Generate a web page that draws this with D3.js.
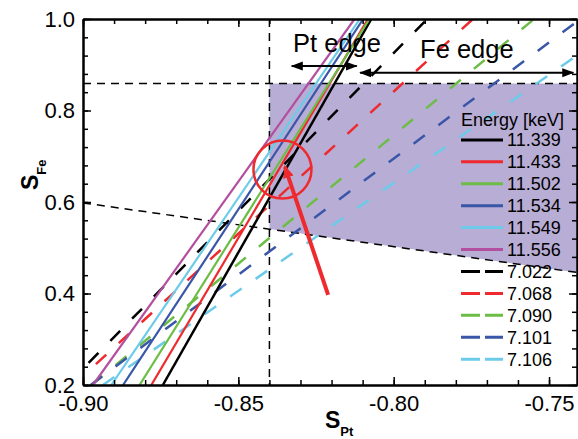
<!DOCTYPE html>
<html>
<head>
<meta charset="utf-8">
<script src="https://cdnjs.cloudflare.com/ajax/libs/d3/7.8.5/d3.min.js"></script>
<style>
body { margin: 0; background: #fff; }
svg { display: block; font-family: "Liberation Sans", Arial, sans-serif; }
</style>
</head>
<body>
<div id="chart"></div>
<script>
// Pt edge energies (solid) : S_Pt where the line is at S_Fe = 0.2 and at S_Fe = 1.0
var ptEnergies = ["11.339", "11.433", "11.502", "11.534", "11.549", "11.556"];
var ptLowX = [-0.8743, -0.8780, -0.8818, -0.8871, -0.8909, -0.8968];
var ptHighX = [-0.8072, -0.8083, -0.8078, -0.8098, -0.8109, -0.8126];

// Fe edge energies (dashed)
var feEnergies = ["7.022", "7.068", "7.090", "7.101", "7.106"];
var feLowX = [-0.9052, -0.9032, -0.8972, -0.8975, -0.8936];
var feHighX = [-0.7892, -0.7745, -0.7548, -0.7399, -0.7241];

// guide lines / shaded region
var vLineX = -0.84;
var hLineY = 0.859;
var slopeLine = [[-0.90, 0.598], [-0.741, 0.446]];
var shadeArea = [[-0.84, 0.859], [-0.741, 0.859], [-0.741, 0.446], [-0.84, 0.541]];

// annotations
var ptEdgeArrow = [-0.8328, -0.8119], ptEdgeArrowY = 0.897;
var feEdgeArrow = [-0.8108, -0.7422], feEdgeArrowY = 0.8826;
var circleCenter = [-0.8358, 0.671];
var redArrow = [[-0.8211, 0.397], [-0.8350, 0.677]];

var xTicks = [-0.90, -0.85, -0.80, -0.75];
var xTickLabels = ["-0.90", "-0.85", "-0.80", "-0.75"];
var yTicks = [0.2, 0.4, 0.6, 0.8, 1.0];
var yTickLabels = ["0.2", "0.4", "0.6", "0.8", "1.0"];

var colors = ["#000000", "#ee2a2e", "#6cbd45", "#3a56a6", "#6ccbe8", "#b24f9f"];
var shadeColor = "#b8add5";

var svg = d3.select("#chart").append("svg")
    .attr("width", 578)
    .attr("height", 439);

var x = d3.scaleLinear().domain([-0.90, -0.741]).range([83, 577]);
var y = d3.scaleLinear().domain([0.2, 1.0]).range([385, 19]);

svg.append("clipPath").attr("id", "plotclip")
    .append("rect")
    .attr("x", 83).attr("y", 19)
    .attr("width", 494).attr("height", 366);

var defs = svg.append("defs");
defs.append("marker")
    .attr("id", "blackhead")
    .attr("viewBox", "0 -5 12 10")
    .attr("refX", 11).attr("refY", 0)
    .attr("markerUnits", "userSpaceOnUse")
    .attr("markerWidth", 12).attr("markerHeight", 10)
    .attr("orient", "auto-start-reverse")
    .append("path").attr("d", "M0,-4.5L12,0L0,4.5Z").attr("fill", "#000");
defs.append("marker")
    .attr("id", "redhead")
    .attr("viewBox", "0 -6 13 12")
    .attr("refX", 11).attr("refY", 0)
    .attr("markerUnits", "userSpaceOnUse")
    .attr("markerWidth", 13).attr("markerHeight", 12)
    .attr("orient", "auto")
    .append("path").attr("d", "M0,-5.5L13,0L0,5.5Z").attr("fill", "#ee2a2e");

var plot = svg.append("g").attr("clip-path", "url(#plotclip)");

var line = d3.line().x(function (d) { return x(d[0]); }).y(function (d) { return y(d[1]); });

// shaded region
plot.append("path")
    .attr("d", line(shadeArea) + "Z")
    .attr("fill", shadeColor);

// guide lines
plot.append("line")
    .attr("x1", x(vLineX)).attr("x2", x(vLineX))
    .attr("y1", y(1.0)).attr("y2", y(0.2))
    .attr("stroke", "#000").attr("stroke-width", 1.5)
    .attr("stroke-dasharray", "8,6");
plot.append("line")
    .attr("x1", x(-0.90)).attr("x2", x(-0.741))
    .attr("y1", y(hLineY)).attr("y2", y(hLineY))
    .attr("stroke", "#000").attr("stroke-width", 1.5)
    .attr("stroke-dasharray", "8,6");
plot.append("path")
    .attr("d", line(slopeLine))
    .attr("fill", "none")
    .attr("stroke", "#000").attr("stroke-width", 1.5)
    .attr("stroke-dasharray", "8,6");

// Fe edge (dashed) lines
for (let i = 0; i < feEnergies.length; i++) {
    plot.append("path")
        .attr("d", line([[feLowX[i], 0.2], [feHighX[i], 1.0]]))
        .attr("fill", "none")
        .attr("stroke", colors[i])
        .attr("stroke-width", 2.5)
        .attr("stroke-dasharray", "14,17");
}

// Pt edge (solid) lines
for (let i = 0; i < ptEnergies.length; i++) {
    plot.append("path")
        .attr("d", line([[ptLowX[i], 0.2], [ptHighX[i], 1.0]]))
        .attr("fill", "none")
        .attr("stroke", colors[i])
        .attr("stroke-width", i == 0 ? 2.5 : 2.2);
}

// red circle + arrow
svg.append("circle")
    .attr("cx", x(circleCenter[0]))
    .attr("cy", y(circleCenter[1]))
    .attr("r", 29)
    .attr("fill", "none")
    .attr("stroke", "#ee2a2e")
    .attr("stroke-width", 2.5);
svg.append("path")
    .attr("d", line(redArrow))
    .attr("stroke", "#ee2a2e")
    .attr("stroke-width", 4)
    .attr("marker-end", "url(#redhead)");

// edge arrows and labels
svg.append("path")
    .attr("d", line([[ptEdgeArrow[0], ptEdgeArrowY], [ptEdgeArrow[1], ptEdgeArrowY]]))
    .attr("stroke", "#000").attr("stroke-width", 2)
    .attr("marker-start", "url(#blackhead)")
    .attr("marker-end", "url(#blackhead)");
svg.append("path")
    .attr("d", line([[feEdgeArrow[0], feEdgeArrowY], [feEdgeArrow[1], feEdgeArrowY]]))
    .attr("stroke", "#000").attr("stroke-width", 2)
    .attr("marker-start", "url(#blackhead)")
    .attr("marker-end", "url(#blackhead)");
svg.append("text")
    .attr("x", x(-0.8324)).attr("y", y(0.928))
    .attr("font-size", "25.5px")
    .text("Pt edge");
svg.append("text")
    .attr("x", x(-0.7915)).attr("y", y(0.915))
    .attr("font-size", "25.5px")
    .text("Fe edge");

// legend
var legend = svg.append("g");
legend.append("text")
    .attr("x", 461).attr("y", 126)
    .attr("font-size", "18px")
    .text("Energy [keV]");
var allLabels = ptEnergies.concat(feEnergies);
for (let i = 0; i < allLabels.length; i++) {
    var yy = 146.4 + i * 21.93;
    var dashed = i >= ptEnergies.length;
    var c = dashed ? colors[i - ptEnergies.length] : colors[i];
    legend.append("line")
        .attr("x1", 461).attr("x2", 503)
        .attr("y1", yy - 6.5).attr("y2", yy - 6.5)
        .attr("stroke", c)
        .attr("stroke-width", 3)
        .attr("stroke-dasharray", dashed ? "19,5" : null);
    legend.append("text")
        .attr("x", 507).attr("y", yy)
        .attr("font-size", "18px")
        .text(allLabels[i]);
}

// axes
function styleAxis(g) {
    g.select(".domain").attr("stroke-width", 2);
    g.selectAll(".tick line").attr("stroke-width", 1.5);
    g.selectAll(".tick text").attr("font-size", "22px").attr("fill", "#000")
        .attr("font-family", "Liberation Sans, Arial, sans-serif");
}
var xMinor = d3.range(-0.90, -0.7405, 0.01);
var yMinor = d3.range(0.2, 1.001, 0.04);

svg.append("g").attr("transform", "translate(0,385)")
    .call(d3.axisBottom(x).tickValues(xMinor).tickSizeInner(-5).tickSizeOuter(0).tickFormat(""))
    .call(styleAxis);
svg.append("g").attr("transform", "translate(0,385)")
    .call(d3.axisBottom(x).tickValues(xTicks).tickSizeInner(-8).tickSizeOuter(0).tickPadding(10)
        .tickFormat(function (d, i) { return xTickLabels[i]; }))
    .call(styleAxis);
svg.append("g").attr("transform", "translate(0,19)")
    .call(d3.axisTop(x).tickValues(xMinor).tickSizeInner(-5).tickSizeOuter(0).tickFormat(""))
    .call(styleAxis);
svg.append("g").attr("transform", "translate(0,19)")
    .call(d3.axisTop(x).tickValues(xTicks).tickSizeInner(-8).tickSizeOuter(0).tickFormat(""))
    .call(styleAxis);
svg.append("g").attr("transform", "translate(83,0)")
    .call(d3.axisLeft(y).tickValues(yMinor).tickSizeInner(-5).tickSizeOuter(0).tickFormat(""))
    .call(styleAxis);
svg.append("g").attr("transform", "translate(83,0)")
    .call(d3.axisLeft(y).tickValues(yTicks).tickSizeInner(-8).tickSizeOuter(0).tickPadding(8)
        .tickFormat(function (d, i) { return yTickLabels[i]; }))
    .call(styleAxis);
svg.append("g").attr("transform", "translate(577,0)")
    .call(d3.axisRight(y).tickValues(yMinor).tickSizeInner(-5).tickSizeOuter(0).tickFormat(""))
    .call(styleAxis);
svg.append("g").attr("transform", "translate(577,0)")
    .call(d3.axisRight(y).tickValues(yTicks).tickSizeInner(-8).tickSizeOuter(0).tickFormat(""))
    .call(styleAxis);

// axis titles
var xt = svg.append("text")
    .attr("x", 325).attr("y", 428)
    .attr("font-weight", "bold");
xt.append("tspan").attr("font-size", "23px").text("S");
xt.append("tspan").attr("font-size", "13px").attr("dy", 8).text("Pt");

var yt = svg.append("text")
    .attr("transform", "translate(38,190) rotate(-90)")
    .attr("font-weight", "bold");
yt.append("tspan").attr("font-size", "23px").text("S");
yt.append("tspan").attr("font-size", "13px").attr("dy", 8).text("Fe");
</script>
</body>
</html>
